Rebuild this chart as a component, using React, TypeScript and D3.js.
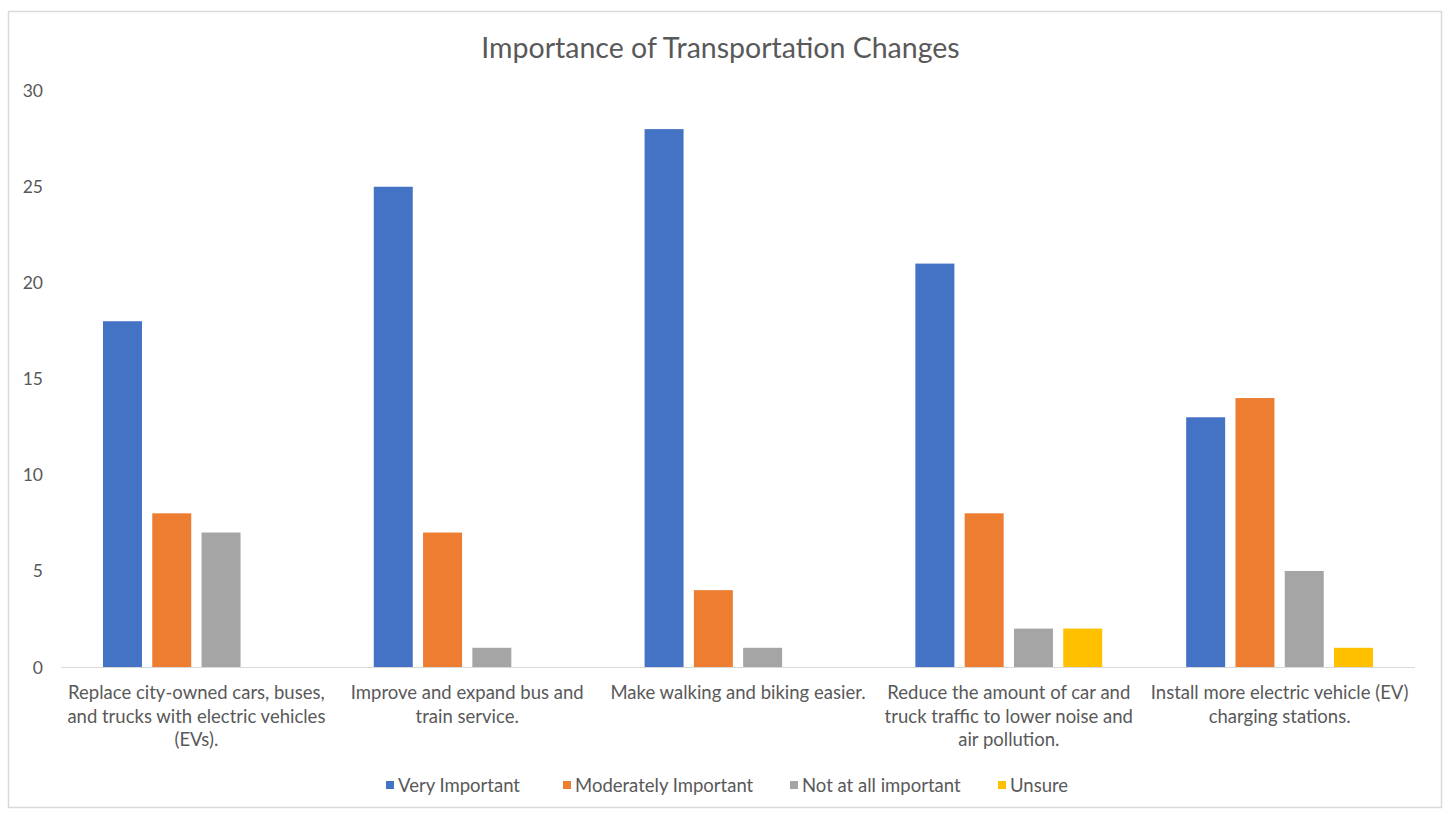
import React from "react";
import * as d3 from "d3";

const categories: string[][] = [
  ["Replace city-owned cars, buses,", "and trucks with electric vehicles", "(EVs)."],
  ["Improve and expand bus and", "train service."],
  ["Make walking and biking easier."],
  ["Reduce the amount of car and", "truck traffic to lower noise and", "air pollution."],
  ["Install more electric vehicle (EV)", "charging stations."],
];
const seriesNames = ["Very Important", "Moderately Important", "Not at all important", "Unsure"];
const veryImportant = [18, 25, 28, 21, 13];
const moderatelyImportant = [8, 7, 4, 8, 14];
const notAtAllImportant = [7, 1, 1, 2, 5];
const unsure = [0, 0, 0, 2, 1];
const seriesValues = [veryImportant, moderatelyImportant, notAtAllImportant, unsure];
const colors = ["#4472C4", "#ED7D31", "#A5A5A5", "#FFC000"];
const yTicks = [0, 5, 10, 15, 20, 25, 30];
const title = "Importance of Transportation Changes";

const W = 1447;
const H = 813;
const FONT = "Lato, 'Open Sans', sans-serif";
const TEXT = "#595959";

export default function App() {
  const plotL = 61, plotR = 1415, plotT = 90.7, plotB = 667;
  const catIdx = categories.map((_, i) => String(i));
  const x0 = d3.scaleBand<string>().domain(catIdx).range([plotL, plotR]).padding(0);
  const bw = x0.bandwidth();
  const groupW = bw * 0.69;
  const x1 = d3
    .scaleBand<string>()
    .domain(seriesNames)
    .range([(bw - groupW) / 2, (bw + groupW) / 2])
    .paddingInner(0.209)
    .paddingOuter(0);
  const y = d3.scaleLinear().domain([0, 30]).range([plotB, plotT]);

  const legendX = [386, 563, 790, 998];

  return (
    <svg width={W} height={H} style={{ position: "absolute", left: 0, top: 0, background: "#fff" }}>
      <rect x={0} y={0} width={W} height={H} fill="#ffffff" />
      <rect x={8.5} y={11.5} width={1433} height={796} fill="#ffffff" stroke="#d9d9d9" strokeWidth={1.5} />
      <text x={(482 + 959) / 2} y={58} textAnchor="middle" fontFamily={FONT} fontSize={28.5} fill={TEXT}>
        {title}
      </text>
      {yTicks.map((t) => (
        <text key={t} x={43} y={y(t) + 6.5} textAnchor="end" fontFamily={FONT} fontSize={17.5} fill={TEXT}>
          {t}
        </text>
      ))}
      <line x1={plotL} x2={plotR} y1={plotB + 0.5} y2={plotB + 0.5} stroke="#d9d9d9" strokeWidth={1.2} />
      {catIdx.map((c, ci) => (
        <g key={c} transform={`translate(${x0(c)},0)`}>
          {seriesNames.map((s, si) => {
            const v = seriesValues[si][ci];
            if (!v) return null;
            return (
              <rect
                key={s}
                x={x1(s)}
                y={y(v)}
                width={x1.bandwidth()}
                height={y(0) - y(v)}
                fill={colors[si]}
              />
            );
          })}
          {categories[ci].map((line, li) => (
            <text
              key={li}
              x={bw / 2}
              y={699 + li * 23.5}
              textAnchor="middle"
              fontFamily={FONT}
              fontSize={18.5}
              fill={TEXT}
            >
              {line}
            </text>
          ))}
        </g>
      ))}
      {seriesNames.map((s, si) => (
        <g key={s}>
          <rect x={legendX[si]} y={781} width={8} height={8} fill={colors[si]} />
          <text x={legendX[si] + 12} y={792} fontFamily={FONT} fontSize={18.5} fill={TEXT}>
            {s}
          </text>
        </g>
      ))}
    </svg>
  );
}
